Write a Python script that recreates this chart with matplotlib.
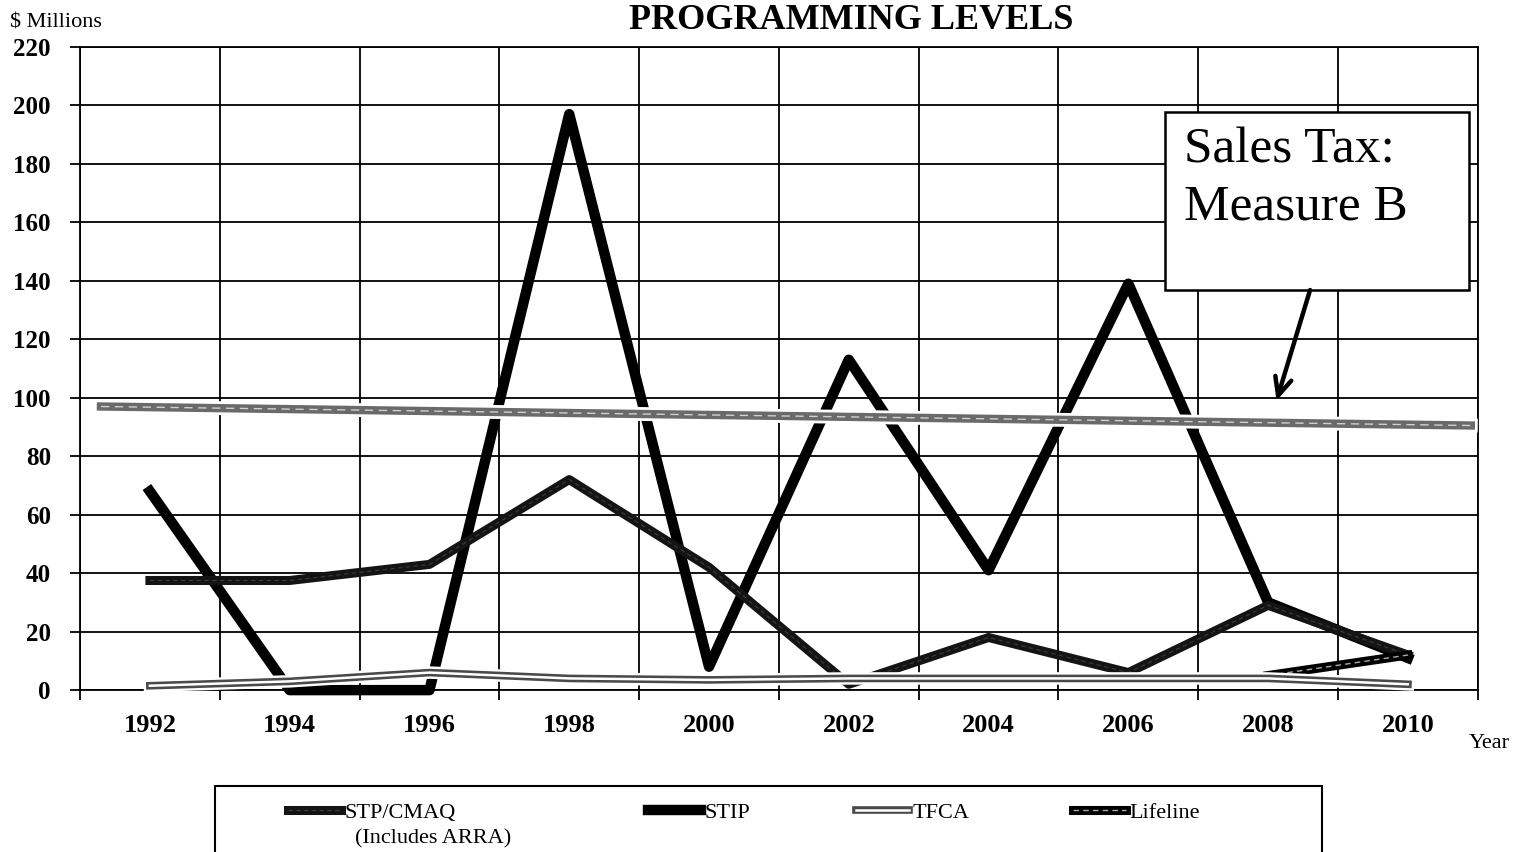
import numpy as np
import matplotlib
matplotlib.use('Agg')
import matplotlib.pyplot as plt
from matplotlib.patches import Rectangle

plt.rcParams['font.family'] = ['Liberation Serif', 'DejaVu Serif']

years = ['1992', '1994', '1996', '1998', '2000', '2002', '2004', '2006', '2008', '2010']
stp_cmaq = [37.5, 37.5, 43, 72, 42, 2, 18, 6, 29, 12]
stip = [68, 0, 0, 197, 8, 113, 41, 139, 30, 11]
tfca = [1.5, 3, 6, 4, 3.5, 4, 4, 4, 4, 2]
lifeline = [np.nan] * 8 + [5, 12]
measure_b = [97, 90.5]  # sales tax band, left and right end

x = np.arange(len(years))
mb_x = [-0.35, 9.45]

fig = plt.figure(figsize=(15.21, 8.52), dpi=100)
ax = fig.add_axes([0.0526, 0.190, 0.919, 0.755])

# series
l_stip, = ax.plot(x, stip, color='black', lw=7.5, zorder=3, clip_on=False)
l_stp, = ax.plot(x, stp_cmaq, color='#141414', lw=6.5, zorder=3)
l_stp2, = ax.plot(x, stp_cmaq, color='#3c3c3c', lw=0.8, ls=(0, (4, 3)), zorder=3)
l_life, = ax.plot(x, lifeline, color='black', lw=6.5, zorder=3)
l_life2, = ax.plot(x, lifeline, color='#aaaaaa', lw=1, ls=(0, (4, 3)), zorder=3)
ax.plot(x, tfca, color='white', lw=9, zorder=4, clip_on=False)
l_tfca, = ax.plot(x, tfca, color='#4a4a4a', lw=5.5, zorder=4, clip_on=False)
l_tfca2, = ax.plot(x, tfca, color='white', lw=1.8, zorder=4, clip_on=False)

# sales tax (Measure B) band
ax.plot(mb_x, measure_b, color='white', lw=10, zorder=5)
ax.plot(mb_x, measure_b, color='#6a6a6a', lw=6, zorder=5)
ax.plot(mb_x, measure_b, color='#d0d0d0', lw=1, ls=(0, (6, 4)), zorder=5)

ax.set_xlim(-0.5, 9.5)
ax.set_ylim(0, 220)
ax.set_yticks(range(0, 221, 20))
ax.set_xticks(x)
ax.set_xticklabels(years)
ax.set_xticks(np.arange(-0.5, 10, 1), minor=True)
ax.set_axisbelow(True)
ax.grid(axis='y', which='major', color='black', lw=1.3)
ax.grid(axis='x', which='minor', color='black', lw=1.3)
ax.tick_params(axis='x', which='major', length=0, pad=17)
ax.tick_params(axis='x', which='minor', length=7, width=1.3)
ax.tick_params(axis='y', length=7, width=1.3, pad=14)
for lab in ax.get_xticklabels():
    lab.set_fontsize(19)
    lab.set_fontweight('bold')
for lab in ax.get_yticklabels():
    lab.set_fontsize(18)
    lab.set_fontweight('bold')
for s in ax.spines.values():
    s.set_linewidth(1.3)

# annotation box
ax.add_patch(Rectangle((0.776, 0.622), 0.218, 0.277, transform=ax.transAxes,
                       facecolor='white', edgecolor='black', lw=1.8, zorder=6))
ax.text(0.790, 0.876, 'Sales Tax:\nMeasure B', transform=ax.transAxes, va='top', ha='left',
        fontsize=37, linespacing=1.3, zorder=7)
ax.annotate('', xy=(8.06, 99), xytext=(0.880, 0.622), textcoords='axes fraction',
            arrowprops=dict(arrowstyle='->,head_length=1.3,head_width=0.6', lw=3.2, color='black',
                            shrinkA=0, shrinkB=0), zorder=7)

fig.text(0.5597, 0.966, 'PROGRAMMING LEVELS', ha='center', va='baseline', fontsize=26, fontweight='bold')
fig.text(0.0066, 0.968, '$ Millions', ha='left', va='baseline', fontsize=16)
fig.text(0.9655, 0.122, 'Year', ha='left', va='baseline', fontsize=16)

# legend box and entries
fig.add_artist(Rectangle((215 / 1521, -0.05), 1107 / 1521, 1 - 786 / 852 + 0.05, transform=fig.transFigure,
                         facecolor='white', edgecolor='black', lw=1.5))
legend_items = [((l_stp, l_stp2), 'STP/CMAQ', 288), (l_stip, 'STIP', 648),
                ((l_tfca, l_tfca2), 'TFCA', 856), ((l_life, l_life2), 'Lifeline', 1073)]
for h, lab, px in legend_items:
    fig.legend([h], [lab], loc='upper left', bbox_to_anchor=(px / 1521, 1 - 802 / 852), frameon=False,
               fontsize=16, handlelength=2.4, handletextpad=0.15, borderpad=0, borderaxespad=0)
fig.text(355 / 1521, 1 - 843 / 852, '(Includes ARRA)', ha='left', va='baseline', fontsize=16)

fig.savefig('out.png', dpi=100)
